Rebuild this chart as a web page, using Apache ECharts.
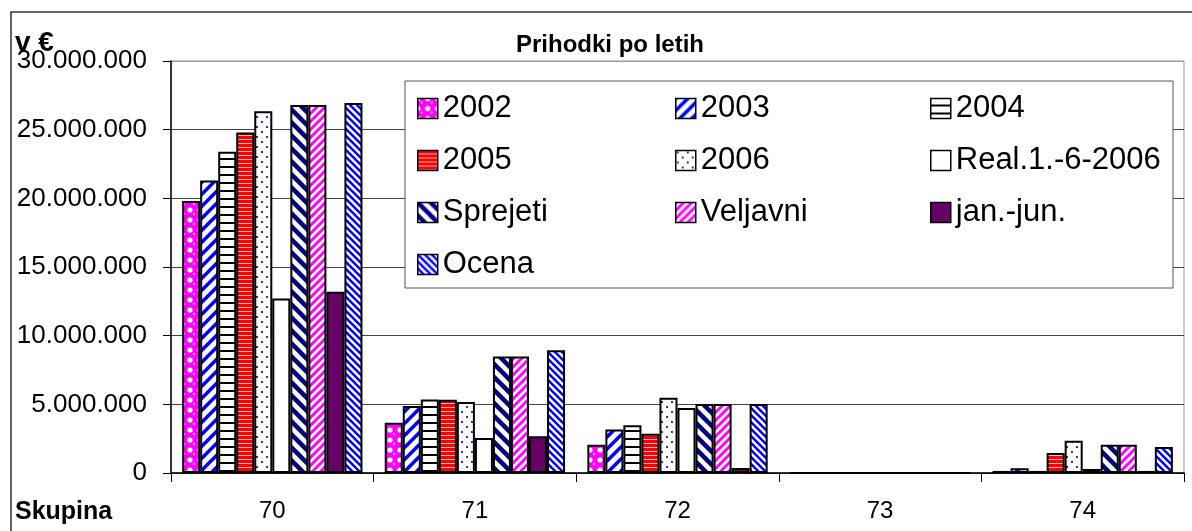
<!DOCTYPE html>
<html><head><meta charset="utf-8">
<script src="https://cdn.jsdelivr.net/npm/echarts@6/dist/echarts.min.js"></script>
<style>html,body{margin:0;padding:0;background:#fff}#c{width:1192px;height:531px}</style>
</head><body><div id="c"></div>
<script>
// ---- data ----
const categories = ['70', '71', '72', '73', '74'];
const seriesNames = ['2002', '2003', '2004', '2005', '2006', 'Real.1.-6-2006', 'Sprejeti', 'Veljavni', 'jan.-jun.', 'Ocena'];
const s2002     = [19800000, 3650000, 2050000, 0, 150000];
const s2003     = [21300000, 4880000, 3160000, 0, 350000];
const s2004     = [23400000, 5360000, 3480000, 0, 150000];
const s2005     = [24800000, 5340000, 2850000, 0, 1450000];
const s2006     = [26350000, 5170000, 5480000, 0, 2350000];
const sReal     = [12700000, 2540000, 4730000, 0, 300000];
const sSprejeti = [26800000, 8480000, 5020000, 0, 2050000];
const sVeljavni = [26800000, 8480000, 5020000, 0, 2050000];
const sJanJun   = [13200000, 2680000, 360000, 0, 150000];
const sOcena    = [26950000, 8940000, 5020000, 0, 1900000];
const yMin = 0, yMax = 30000000, yStep = 5000000;
const legendCol1 = ['2002', '2005', 'Sprejeti', 'Ocena'];
const legendCol2 = ['2003', '2006', 'Veljavni'];
const legendCol3 = ['2004', 'Real.1.-6-2006', 'jan.-jun.'];
const titleText = 'Prihodki po letih';
const yUnitText = 'v €';
const xNameText = 'Skupina';

// ---- patterns ----
function mk(w, h, draw) {
  const c = document.createElement('canvas');
  c.width = w; c.height = h;
  const g = c.getContext('2d');
  draw(g, w, h);
  return c;
}
function stripes(s, lw, col, dir) {
  return mk(s, s, function (g) {
    g.fillStyle = '#fff'; g.fillRect(0, 0, s, s);
    g.strokeStyle = col; g.lineWidth = lw; g.lineCap = 'square';
    for (let k = -s; k <= s; k += s) {
      g.beginPath();
      if (dir === '/') { g.moveTo(k, s); g.lineTo(k + s, 0); }
      else { g.moveTo(k, 0); g.lineTo(k + s, s); }
      g.stroke();
    }
  });
}
const pat = {};
pat['2002'] = mk(10, 10, function (g) {
  g.fillStyle = '#FF00FF'; g.fillRect(0, 0, 10, 10);
  g.fillStyle = '#FFFFFF';
  [[0, 0], [10, 0], [0, 10], [10, 10]].forEach(function (p) { g.beginPath(); g.arc(p[0], p[1], 2.6, 0, Math.PI * 2); g.fill(); });
  g.fillStyle = '#FF99FF';
  g.beginPath(); g.arc(4, 4, 1.2, 0, Math.PI * 2); g.fill();
});
pat['2003'] = stripes(12, 3.5, '#0000FF', '/');
pat['2004'] = mk(8, 8, function (g) {
  g.fillStyle = '#fff'; g.fillRect(0, 0, 8, 8);
  g.fillStyle = '#000'; g.fillRect(0, 6, 8, 2);
});
pat['2005'] = mk(4, 4, function (g) {
  g.fillStyle = '#FF0000'; g.fillRect(0, 0, 4, 4);
  g.fillStyle = '#FFB8B8'; g.fillRect(0, 3, 4, 1);
});
pat['2006'] = mk(10, 10, function (g) {
  g.fillStyle = '#fff'; g.fillRect(0, 0, 10, 10);
  g.fillStyle = '#333399'; g.fillRect(1, 1, 2, 2); g.fillRect(6, 6, 2, 2);
});
pat['Sprejeti'] = stripes(13, 4.5, '#000080', '\\');
pat['Veljavni'] = stripes(8, 3, '#FF00FF', '/');
pat['Ocena'] = stripes(7, 2.5, '#0000FF', '\\');

const fills = {
  '2002': { image: pat['2002'], repeat: 'repeat' },
  '2003': { image: pat['2003'], repeat: 'repeat' },
  '2004': { image: pat['2004'], repeat: 'repeat' },
  '2005': { image: pat['2005'], repeat: 'repeat' },
  '2006': { image: pat['2006'], repeat: 'repeat' },
  'Real.1.-6-2006': '#FFFFFF',
  'Sprejeti': { image: pat['Sprejeti'], repeat: 'repeat' },
  'Veljavni': { image: pat['Veljavni'], repeat: 'repeat' },
  'jan.-jun.': '#660066',
  'Ocena': { image: pat['Ocena'], repeat: 'repeat' }
};
const seriesData = [s2002, s2003, s2004, s2005, s2006, sReal, sSprejeti, sVeljavni, sJanJun, sOcena];

function fmt(v) { return String(v).replace(/\B(?=(\d{3})+(?!\d))/g, '.'); }

const FONT = "'Liberation Sans', Arial, sans-serif";

function legendCol(data, left, top) {
  return {
    data: data, orient: 'vertical', left: left, top: top, padding: 0,
    itemWidth: 20, itemHeight: 20, itemGap: 21, itemTextGap: 14,
    icon: 'rect', selectedMode: false,
    itemStyle: { borderColor: '#000', borderWidth: 1.5 },
    textStyle: { fontSize: 31, fontFamily: FONT, color: '#000' }
  };
}

const chart = echarts.init(document.getElementById('c'), null, { renderer: 'canvas' });
chart.setOption({
  animation: false,
  backgroundColor: '#fff',
  grid: { left: 171, right: 8, top: 61, bottom: 58, show: true, borderColor: '#999', borderWidth: 1, containLabel: false },
  legend: [legendCol(legendCol1, 417, 93), legendCol(legendCol2, 675, 93), legendCol(legendCol3, 930, 93)],
  xAxis: {
    type: 'category', data: categories,
    axisLine: { lineStyle: { color: '#000', width: 1.5 } },
    axisTick: { show: true, length: 9, interval: 0, lineStyle: { color: '#000', width: 1 } },
    axisLabel: { fontSize: 24, fontFamily: FONT, color: '#000', margin: 26 }
  },
  yAxis: {
    type: 'value', min: yMin, max: yMax, interval: yStep,
    axisLine: { show: true, lineStyle: { color: '#000', width: 1.5 } },
    axisTick: { show: true, length: 8, lineStyle: { color: '#000', width: 1 } },
    axisLabel: { fontSize: 26, fontFamily: FONT, color: '#000', margin: 24, formatter: fmt },
    splitLine: { show: true, lineStyle: { color: ['#444', '#444', '#444', '#444', '#444', '#444', '#999'], width: 1 } }
  },
  graphic: [
    { type: 'rect', z: 0, shape: { x: 11, y: 12, width: 1300, height: 700 }, style: { fill: 'none', stroke: '#333', lineWidth: 1.5 } },
    { type: 'rect', z: 3, shape: { x: 405, y: 81, width: 768, height: 207 }, style: { fill: '#fff', stroke: '#555', lineWidth: 1 } },
    { type: 'text', z: 5, x: 610, y: 45, style: { text: titleText, font: 'bold 24px ' + FONT, fill: '#000', align: 'center', verticalAlign: 'middle' } },
    { type: 'text', z: 5, x: 15, y: 43, style: { text: yUnitText, font: 'bold 28px ' + FONT, fill: '#000', align: 'left', verticalAlign: 'middle' } },
    { type: 'text', z: 5, x: 15, y: 512, style: { text: xNameText, font: 'bold 25px ' + FONT, fill: '#000', align: 'left', verticalAlign: 'middle' } }
  ],
  series: seriesNames.map(function (name, i) {
    return {
      name: name, type: 'bar', data: seriesData[i],
      barGap: '0%', barCategoryGap: '11%',
      itemStyle: { color: fills[name], borderColor: '#000', borderWidth: 2 }
    };
  })
});
</script>
</body></html>
